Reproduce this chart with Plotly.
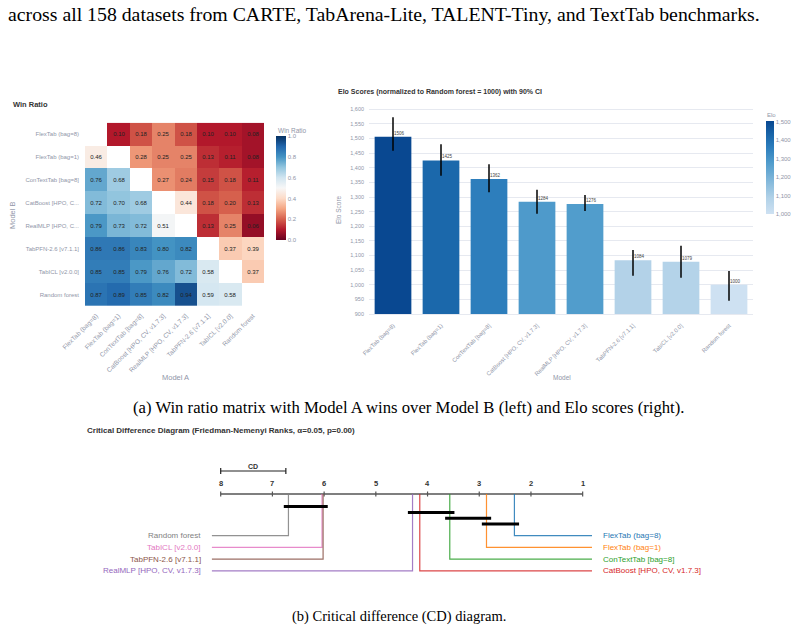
import plotly.graph_objects as go
import plotly.express as px

W, H = 797, 631

# ---------------- data ----------------
models = ["FlexTab (bag=8)", "FlexTab (bag=1)", "ConTextTab [bag=8]",
          "CatBoost [HPO, CV, v1.7.3]", "RealMLP [HPO, CV, v1.7.3]",
          "TabPFN-2.6 [v7.1.1]", "TabICL [v2.0.0]", "Random forest"]
model_b_labels = ["FlexTab (bag=8)", "FlexTab (bag=1)", "ConTextTab [bag=8]",
                  "CatBoost [HPO, C...", "RealMLP [HPO, C...",
                  "TabPFN-2.6 [v7.1.1]", "TabICL [v2.0.0]", "Random forest"]

win_ratio = [
    [None, 0.10, 0.18, 0.25, 0.18, 0.10, 0.10, 0.08],
    [0.46, None, 0.28, 0.25, 0.25, 0.13, 0.11, 0.08],
    [0.76, 0.68, None, 0.27, 0.24, 0.15, 0.18, 0.11],
    [0.72, 0.70, 0.68, None, 0.44, 0.18, 0.20, 0.13],
    [0.79, 0.73, 0.72, 0.51, None, 0.13, 0.25, 0.06],
    [0.86, 0.86, 0.83, 0.80, 0.82, None, 0.37, 0.39],
    [0.85, 0.85, 0.79, 0.76, 0.72, 0.58, None, 0.37],
    [0.87, 0.89, 0.85, 0.82, 0.94, 0.59, 0.58, None],
]

elo = [1506, 1425, 1362, 1284, 1276, 1084, 1079, 1000]
elo_ci_plus = [67, 55, 50, 41, 31, 35, 54, 47]
elo_ci_minus = [48, 52, 46, 41, 24, 53, 55, 55]

cd_models = ["FlexTab (bag=8)", "FlexTab (bag=1)", "ConTextTab [bag=8]",
             "CatBoost [HPO, CV, v1.7.3]", "RealMLP [HPO, CV, v1.7.3]",
             "TabPFN-2.6 [v7.1.1]", "TabICL [v2.0.0]", "Random forest"]
cd_ranks = [2.32, 2.86, 3.57, 4.15, 4.29, 6.02, 6.04, 6.69]
cd_colors = ["#1f77b4", "#ff7f0e", "#2ca02c", "#d62728", "#9467bd",
             "#8c564b", "#e377c2", "#7f7f7f"]
cd_cliques = [(6.69, 6.02), (4.29, 3.57), (3.57, 2.86), (2.86, 2.32)]
cd_value = 1.26
cd_ticks = [8, 7, 6, 5, 4, 3, 2, 1]

# ---------------- helpers ----------------
def fx(p):
    return p / W

def fy(p):
    return 1 - p / H

SANS = "Liberation Sans, Arial, sans-serif"
SERIF = "Liberation Serif, Times New Roman, serif"
GRAY = "#9096a8"
DARK = "#333333"

fig = go.Figure()

# ---------------- heatmap ----------------
cell_text = [["" if v is None else f"{v:.2f}" for v in row] for row in win_ratio]
fig.add_trace(go.Heatmap(
    z=win_ratio, x=models, y=models, text=cell_text, texttemplate="%{text}",
    textfont=dict(size=6, color="#222222", family=SANS),
    colorscale=px.colors.diverging.RdBu, zmin=0, zmax=1,
    xaxis="x", yaxis="y", hoverinfo="skip",
    colorbar=dict(x=fx(276), xanchor="left", y=fy(188), yanchor="middle",
                  len=104, lenmode="pixels", thickness=10, thicknessmode="pixels",
                  xpad=0, ypad=0, outlinewidth=0, ticks="",
                  tickvals=[0, 0.2, 0.4, 0.6, 0.8, 1.0],
                  ticktext=["0.0", "0.2", "0.4", "0.6", "0.8", "1.0"],
                  tickfont=dict(size=6, color=GRAY, family=SANS)),
))

# ---------------- Elo bars ----------------
elo_scale = [[0, "rgb(206,225,242)"], [0.17, "rgb(178,210,232)"],
             [0.55, "rgb(80,156,204)"], [0.72, "rgb(44,125,188)"],
             [0.84, "rgb(27,104,171)"], [1, "rgb(9,72,145)"]]
fig.add_trace(go.Bar(
    x=models, y=elo, xaxis="x2", yaxis="y2", hoverinfo="skip",
    marker=dict(color=elo, colorscale=elo_scale, cmin=1000, cmax=1506,
                line=dict(width=0),
                colorbar=dict(x=fx(766), xanchor="left", y=fy(167.3), yanchor="middle",
                              len=93, lenmode="pixels", thickness=8, thicknessmode="pixels",
                              xpad=0, ypad=0, outlinewidth=0, ticks="",
                              tickvals=[1000, 1100, 1200, 1300, 1400, 1500],
                              tickformat=",d",
                              tickfont=dict(size=6, color=GRAY, family=SANS))),
    error_y=dict(type="data", symmetric=False, array=elo_ci_plus,
                 arrayminus=elo_ci_minus, color="black", thickness=1.5, width=0),
))

# ---------------- CD diagram ----------------
AXIS_Y = 494
ROW_Y0, ROW_DY = 535.7, 11.7
CLIQUE_Y0, CLIQUE_DY = 506.6, 5.8
LEFT_END, RIGHT_END = 8.17, 0.82
EXT = 0.09

fig.add_trace(go.Scatter(x=[max(cd_ticks), min(cd_ticks)], y=[AXIS_Y, AXIS_Y],
                         mode="lines", line=dict(color="#555555", width=1.5),
                         xaxis="x3", yaxis="y3", hoverinfo="skip", showlegend=False))
tx, ty = [], []
for t in cd_ticks:
    tx += [t, t, None]
    ty += [AXIS_Y - 2.5, AXIS_Y + 2.5, None]
fig.add_trace(go.Scatter(x=tx, y=ty, mode="lines", line=dict(color="#555555", width=1.2),
                         xaxis="x3", yaxis="y3", hoverinfo="skip", showlegend=False))

cd_lo = max(cd_ticks)
cd_hi = max(cd_ticks) - cd_value
fig.add_trace(go.Scatter(x=[cd_lo, cd_lo, None, cd_lo, cd_hi, None, cd_hi, cd_hi],
                         y=[468, 474, None, 471, 471, None, 468, 474],
                         mode="lines", line=dict(color="#222222", width=1.2),
                         xaxis="x3", yaxis="y3", hoverinfo="skip", showlegend=False))

order = sorted(range(len(cd_ranks)), key=lambda i: cd_ranks[i])
right_side = order[:4]
left_side = sorted(order[4:], key=lambda i: -cd_ranks[i])
for k, i in enumerate(right_side):
    yy = ROW_Y0 + k * ROW_DY
    fig.add_trace(go.Scatter(x=[cd_ranks[i], cd_ranks[i], RIGHT_END], y=[AXIS_Y, yy, yy],
                             mode="lines", line=dict(color=cd_colors[i], width=1.2),
                             opacity=0.85, xaxis="x3", yaxis="y3",
                             hoverinfo="skip", showlegend=False))
for k, i in enumerate(left_side):
    yy = ROW_Y0 + k * ROW_DY
    fig.add_trace(go.Scatter(x=[cd_ranks[i], cd_ranks[i], LEFT_END], y=[AXIS_Y, yy, yy],
                             mode="lines", line=dict(color=cd_colors[i], width=1.2),
                             opacity=0.85, xaxis="x3", yaxis="y3",
                             hoverinfo="skip", showlegend=False))

for k, (a, b) in enumerate(cd_cliques):
    yy = CLIQUE_Y0 + k * CLIQUE_DY
    fig.add_trace(go.Scatter(x=[a + EXT, b - EXT], y=[yy, yy], mode="lines",
                             line=dict(color="black", width=3),
                             xaxis="x3", yaxis="y3", hoverinfo="skip", showlegend=False))

# ---------------- annotations ----------------
ann = []

def add_text(text, x, y, size, color=DARK, xanchor="center", yanchor="middle",
             family=SANS, angle=0, xref="paper", yref="paper", xshift=0):
    ann.append(dict(text=text, x=x, y=y, xref=xref, yref=yref, showarrow=False,
                    xanchor=xanchor, yanchor=yanchor, textangle=angle, xshift=xshift,
                    font=dict(size=size, color=color, family=family)))

add_text("across all 158 datasets from CARTE, TabArena-Lite, TALENT-Tiny, and TextTab benchmarks.",
         fx(6), fy(14), 19.8, color="black", xanchor="left", family=SERIF)
add_text("(a) Win ratio matrix with Model A wins over Model B (left) and Elo scores (right).",
         fx(408), fy(407), 16.7, color="black", family=SERIF)
add_text("(b) Critical difference (CD) diagram.",
         fx(399), fy(616), 14.5, color="black", family=SERIF)

add_text("<b>Win Ratio</b>", fx(11), fy(105), 7.5, xanchor="left")
add_text("Win Ratio", fx(276), fy(130), 6.5, color=GRAY, xanchor="left")
add_text("Model B", fx(13), fy(215), 7.5, color=GRAY, angle=-90)
add_text("Model A", fx(175), fy(377), 7.5, color=GRAY)

add_text("<b>Elo Scores (normalized to Random forest = 1000) with 90% CI</b>",
         fx(336), fy(92.3), 7, xanchor="left")
add_text("Elo", fx(765), fy(115), 6, color=GRAY, xanchor="left")
add_text("Elo Score", fx(338), fy(210), 6.5, color=GRAY, angle=-90)
add_text("Model", fx(562), fy(377), 6.5, color=GRAY)
for m, v in zip(models, elo):
    ann.append(dict(text=str(v), x=m, y=v, xref="x2", yref="y2", showarrow=False,
                    xanchor="left", yanchor="bottom", borderpad=0,
                    font=dict(size=4.5, color="#444444", family=SANS)))

add_text("<b>Critical Difference Diagram (Friedman-Nemenyi Ranks, \u03b1=0.05, p=0.00)</b>",
         fx(85), fy(430.7), 8, xanchor="left")
for t in cd_ticks:
    add_text(f"<b>{t}</b>", t, 483, 7.5, xref="x3", yref="y3")
add_text("<b>CD</b>", (cd_lo + cd_hi) / 2, 466.3, 7, xref="x3", yref="y3")
for k, i in enumerate(right_side):
    add_text(cd_models[i], RIGHT_END, ROW_Y0 + k * ROW_DY, 8, color=cd_colors[i],
             xanchor="left", xref="x3", yref="y3", xshift=9)
for k, i in enumerate(left_side):
    add_text(cd_models[i], LEFT_END, ROW_Y0 + k * ROW_DY, 8, color=cd_colors[i],
             xanchor="right", xref="x3", yref="y3", xshift=-9)

# ---------------- layout ----------------
rank_per_px = 1 / 51.71
x3_range = [8 + 220.7 * rank_per_px, 8 - (W - 220.7) * rank_per_px]

fig.update_layout(
    width=W, height=H, margin=dict(l=0, r=0, t=0, b=0, autoexpand=False),
    paper_bgcolor="white", plot_bgcolor="rgba(0,0,0,0)",
    showlegend=False, hovermode=False, bargap=0.235,
    font=dict(family=SANS, color=GRAY),
    annotations=ann,
    xaxis=dict(domain=[fx(85), fx(264)], anchor="y", showgrid=False, zeroline=False,
               tickangle=-45, ticks="", tickfont=dict(size=6.5, color=GRAY),
               ticklabelstandoff=4, automargin=False, fixedrange=True),
    yaxis=dict(domain=[fy(306), fy(122.7)], anchor="x", showgrid=False, zeroline=False,
               autorange="reversed", ticks="", tickvals=models, ticktext=model_b_labels,
               tickfont=dict(size=6, color=GRAY), ticklabelstandoff=5,
               automargin=False, fixedrange=True),
    xaxis2=dict(domain=[fx(369), fx(753)], anchor="y2", showgrid=False, zeroline=False,
                tickangle=-45, ticks="", tickfont=dict(size=5.8, color=GRAY),
                ticklabelstandoff=5,
                showline=True, linecolor="#e6e9f0", linewidth=1,
                automargin=False, fixedrange=True),
    yaxis2=dict(domain=[fy(314), fy(100.5)], anchor="x2", range=[900, 1630],
                dtick=50, tickformat=",d", gridcolor="#e6e9f0", gridwidth=1,
                zeroline=False, ticks="", tickfont=dict(size=5.5, color=GRAY),
                ticklabelstandoff=4, automargin=False, fixedrange=True),
    xaxis3=dict(domain=[0, 1], anchor="y3", range=x3_range, visible=False, fixedrange=True),
    yaxis3=dict(domain=[0, 1], anchor="x3", range=[H, 0], visible=False, fixedrange=True),
)

fig.write_html("out.html")
